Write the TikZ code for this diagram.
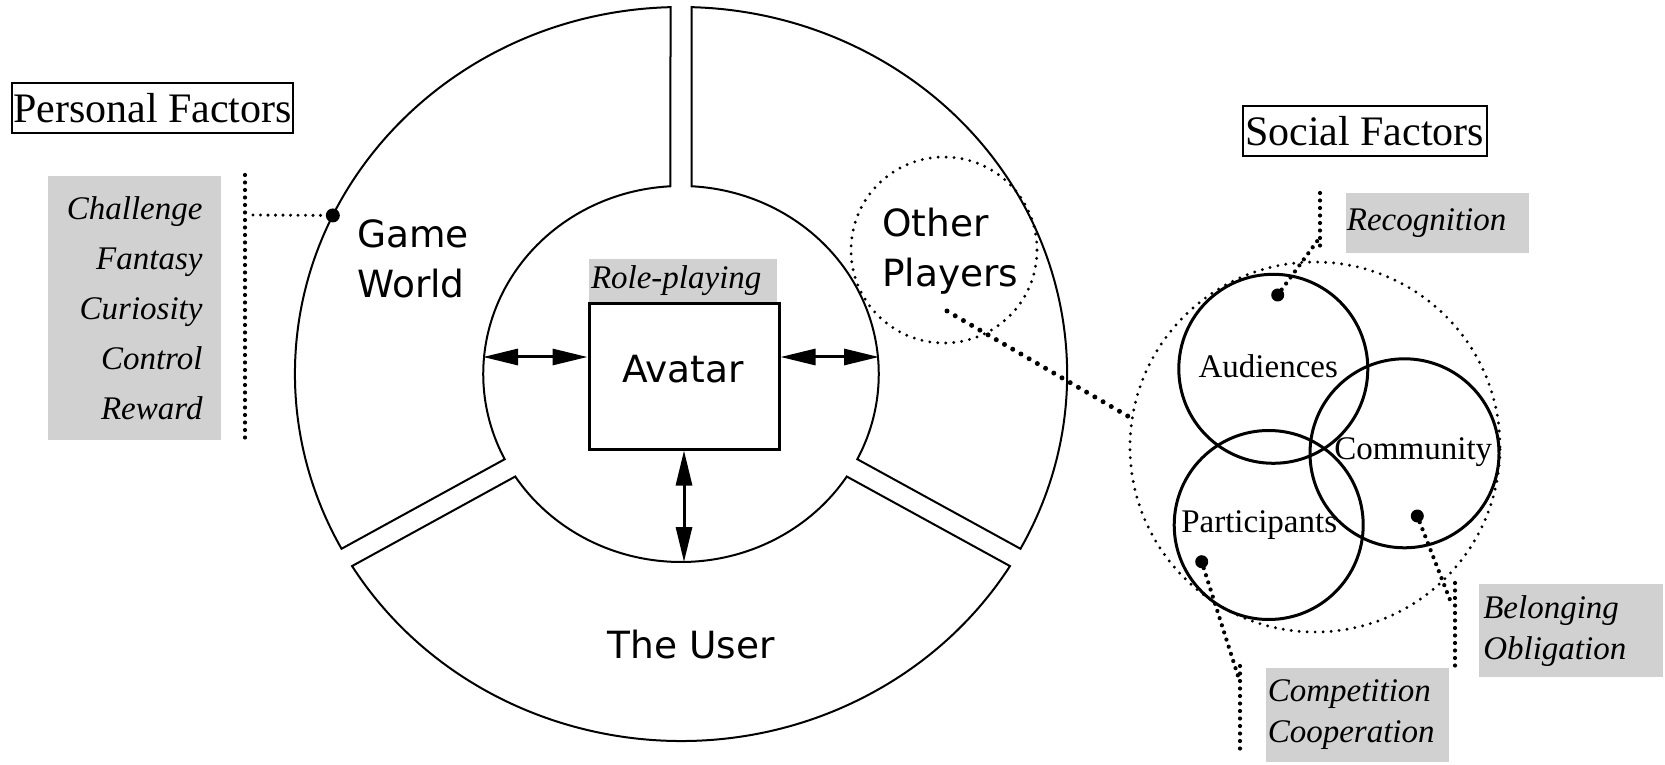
\documentclass[tikz,border=0pt]{standalone}
\usepackage{fontspec}
\setmainfont{Liberation Serif}
\newfontfamily\sansfont{DejaVu Sans}
\usetikzlibrary{arrows.meta}
\definecolor{boxgray}{gray}{0.82}
\tikzset{
	ringpart/.style={line width=2pt},
	bigsans/.style={font=\sansfont\fontsize{37.5}{50}\selectfont, inner sep=0pt},
	titlebox/.style={draw, line width=1.8pt, font=\fontsize{42}{50}\selectfont, inner sep=0pt, minimum height=50pt},
	factbox/.style={fill=boxgray, font=\fontsize{33}{41}\selectfont\itshape, inner ysep=0pt},
	venn/.style={circle, draw, line width=3pt, minimum size=189pt, inner sep=0pt},
	venntext/.style={font=\fontsize{33}{40}\selectfont, inner sep=0pt},
	blackdot/.style={circle, fill, inner sep=0pt, minimum size=14pt},
	dotline/.style={line width=4.2pt, line cap=round, dash pattern=on 0pt off 7.5pt},
	dotring/.style={draw, line width=3.2pt, line cap=round, dash pattern=on 0pt off 8pt},
	bigdots/.style={line width=5pt, line cap=round, dash pattern=on 0pt off 9.5pt},
	dblarrow/.style={line width=3pt, >={Triangle[length=35pt,width=16pt]}, <->}
}
\begin{document}
\begin{tikzpicture}[x=1pt,y=1pt]
	\path[use as bounding box, fill=white] (0,0) rectangle (1665,764);
	% the ring: three parts with gaps at 90, 210 and 330 degrees
	\begin{scope}[shift={(681,390)}, xscale=1.052]
		\foreach \a in {90,210,330}{
			\pgfmathsetmacro\oa{\a+1.56}
			\pgfmathsetmacro\ob{\a+118.44}
			\pgfmathsetmacro\ia{\a+3.05}
			\pgfmathsetmacro\ib{\a+116.95}
			\draw[ringpart] (\oa:367) arc[start angle=\oa, end angle=\ob, radius=367]
				-- (\ib:188) arc[start angle=\ib, end angle=\ia, radius=188] -- cycle;
		}
		\node[blackdot] (gwdot) at (154.4:367) {};
	\end{scope}
	\node[bigsans, anchor=base west, align=left] (gw) at (357,466) {Game\\World};
	\node[bigsans, anchor=base west, align=left] (op) at (882,477) {Other\\Players};
	\node[bigsans, anchor=base] (user) at (691,106) {The User};
	\node[dotring, circle, minimum size=186pt, inner sep=0pt] (opring) at (944,514) {};
	% avatar in the middle
	\node[draw, line width=3pt, minimum width=190pt, minimum height=145pt, inner sep=0pt] (avatar) at (684,387.5) {};
	\node[bigsans, anchor=base] (avtxt) at (683,381) {Avatar};
	\node[factbox, minimum height=43pt, text width=184pt, inner xsep=2pt, align=left] (role) at (683,483.5) {Role-playing};
	\coordinate (inW) at (483,407);
	\coordinate (inE) at (879,407);
	\coordinate (inS) at (684,202);
	\draw[dblarrow] (inW) -- (inW -| avatar.west);
	\draw[dblarrow] (avatar.east |- inE) -- (inE);
	\draw[dblarrow] (avatar.south) -- (inS);
	% personal factors
	\node[titlebox, minimum width=281pt] (pf) at (152.5,656) {Personal Factors};
	\node[factbox, font=\fontsize{33}{50}\selectfont\itshape, text width=136pt, inner xsep=18.5pt, minimum height=263pt, align=right] (plist) at (134.5,456) {Challenge\\Fantasy\\Curiosity\\Control\\Reward};
	\coordinate (pt) at (245,589);
	\coordinate (pb) at (245,324);
	\coordinate (pm) at (253,549);
	\draw[dotline] (pt) -- (pb);
	\draw[dotline, line width=3.4pt] (pm) -- (gwdot);
	% social factors
	\node[titlebox, minimum width=244pt] (sf) at (1364.6,633) {Social Factors};
	\node[dotring, circle, minimum size=370pt, inner sep=0pt] (sg) at (1315,317) {};
	\coordinate (opfoot) at (947,453);
	\draw[bigdots] (opfoot) -- (sg.171);
	\node[venn] (aud) at (1273.3,395.2) {};
	\node[venn] (com) at (1404.5,310.7) {};
	\node[venn] (par) at (1268.7,239) {};
	\node[venntext, anchor=base] (audtxt) at (1268.3,386.7) {Audiences};
	\node[venntext, anchor=base] (comtxt) at (1413.3,304.7) {Community};
	\node[venntext, anchor=base] (partxt) at (1259.2,231.7) {Participants};
	\node[blackdot, minimum size=13pt] (auddot) at (1277.7,469) {};
	\node[blackdot, minimum size=13pt] (comdot) at (1417.3,248) {};
	\node[blackdot, minimum size=13pt] (pardot) at (1201.7,202.3) {};
	\node[factbox, minimum height=59.4pt, text width=181pt, inner xsep=1pt, align=left] (rec) at (1437.4,541) {Recognition};
	\node[factbox, minimum height=93pt, text width=175.4pt, inner xsep=4pt, align=left] (belong) at (1571,133.2) {Belonging\\Obligation};
	\node[factbox, minimum height=94pt, text width=179.3pt, inner xsep=2pt, align=left] (compete) at (1357.4,49.3) {Competition\\Cooperation};
	\coordinate (rectop) at (1320,571);
	\coordinate (recbot) at (1320,514);
	\coordinate (recjoin) at (1318,524);
	\coordinate (partop) at (1240,98);
	\coordinate (parbot) at (1240,8);
	\coordinate (parjoin) at (1238,88);
	\coordinate (comtop) at (1455,181);
	\coordinate (combot) at (1455,91);
	\coordinate (comjoin) at (1452,159);
	\draw[dotline] (rectop) -- (recbot);
	\draw[dotline] (auddot) -- (recjoin);
	\draw[dotline] (partop) -- (parbot);
	\draw[dotline] (pardot) -- (parjoin);
	\draw[dotline] (comtop) -- (combot);
	\draw[dotline] (comdot) -- (comjoin);
\end{tikzpicture}
\end{document}
